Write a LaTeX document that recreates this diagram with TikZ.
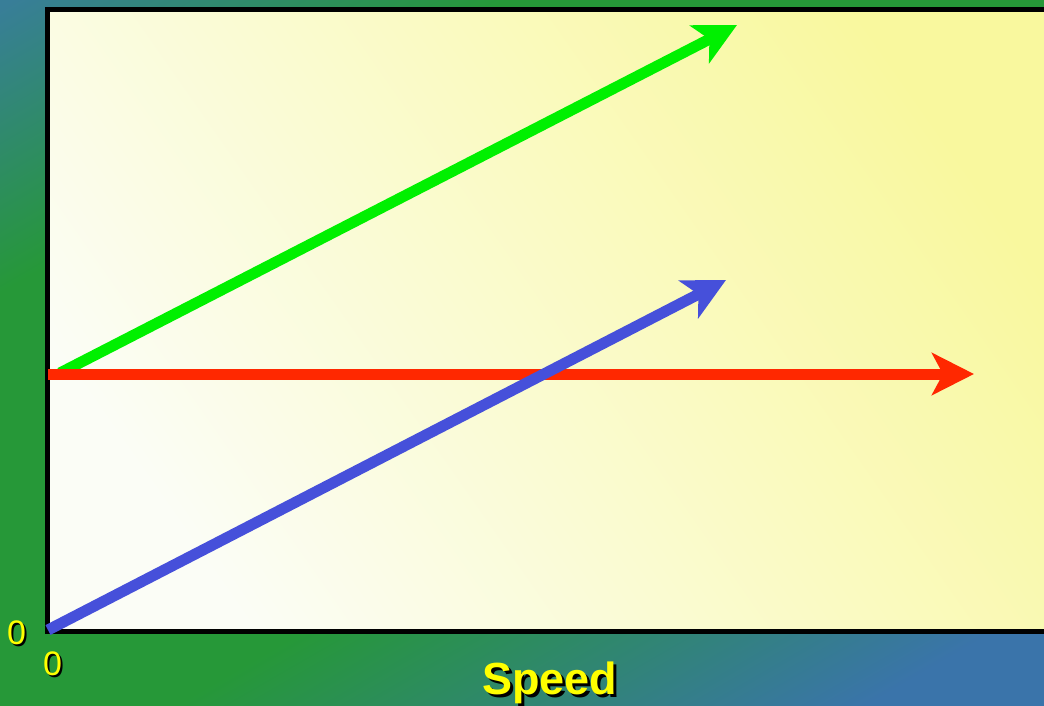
\documentclass[tikz,border=0pt]{standalone}
\usepackage{fontspec}
\setmainfont{Liberation Sans}
\usepackage{xcolor}
\usetikzlibrary{arrows.meta}

\definecolor{bgteal}{RGB}{56,126,152}
\definecolor{bggreen}{RGB}{38,152,56}
\definecolor{bgblue}{RGB}{58,116,170}
\definecolor{pfwhite}{RGB}{251,253,246}
\definecolor{pfyellow}{RGB}{249,248,158}
\definecolor{vgreen}{RGB}{0,240,0}
\definecolor{vred}{RGB}{255,40,0}
\definecolor{vblue}{RGB}{70,80,218}
\definecolor{lblyellow}{RGB}{255,255,0}

\pgfdeclarehorizontalshading{bgshade}{100bp}{color(0bp)=(bgteal); color(16bp)=(bgteal);
  color(31bp)=(bggreen); color(58bp)=(bggreen); color(79bp)=(bgblue); color(100bp)=(bgblue)}
\pgfdeclarehorizontalshading{plotshade}{100bp}{color(0bp)=(pfwhite); color(25bp)=(pfwhite);
  color(75bp)=(pfyellow); color(100bp)=(pfyellow)}

% yellow text with a black drop shadow
\newcommand{\shadowtxt}[2]{\leavevmode\rlap{\hspace{#1}\raisebox{-#1}{\color{black}#2}}#2}

\begin{document}
\begin{tikzpicture}[
    x=1pt, y=-1pt,
    vec/.style={line width=11pt, -{Stealth[length=42pt, width=42pt, inset=11pt]}},
    lbl/.style={text=lblyellow, inner sep=0pt, font=\fontsize{34}{34}\selectfont},
    ttl/.style={lbl, font=\bfseries\fontsize{45}{45}\selectfont, anchor=base west},
]
\useasboundingbox (0,0) rectangle (1044,705);
\clip (0,0) rectangle (1044,705);

% background and plot area
\shade[shading=bgshade, shading angle=-60] (0,0) rectangle (1044,705);
\shade[shading=plotshade, shading angle=35] (47.5,9.5) rectangle (1060,631.5);
\draw[line width=5pt] (47.5,9.5) rectangle (1060,631.5);

% vectors
\coordinate (origin) at (48,630);
\coordinate (gstart) at (60,373);
\coordinate (rstart) at (48,374);
\coordinate (gtip) at (737,25);
\coordinate (rtip) at (974,374);
\coordinate (btip) at (726,280);
\draw[vec, vgreen] (gstart) -- (gtip);
\draw[vec, vred] (rstart) -- (rtip);
\draw[vec, vblue] (origin) -- (btip);

% labels
\node[lbl, anchor=west] (yzero) at (7,634) {\shadowtxt{2pt}{0}};
\node[lbl, anchor=west] (xzero) at (43,665) {\shadowtxt{2pt}{0}};
\node[ttl] (speed) at (482,694) {\shadowtxt{3pt}{Speed}};
\end{tikzpicture}
\end{document}
